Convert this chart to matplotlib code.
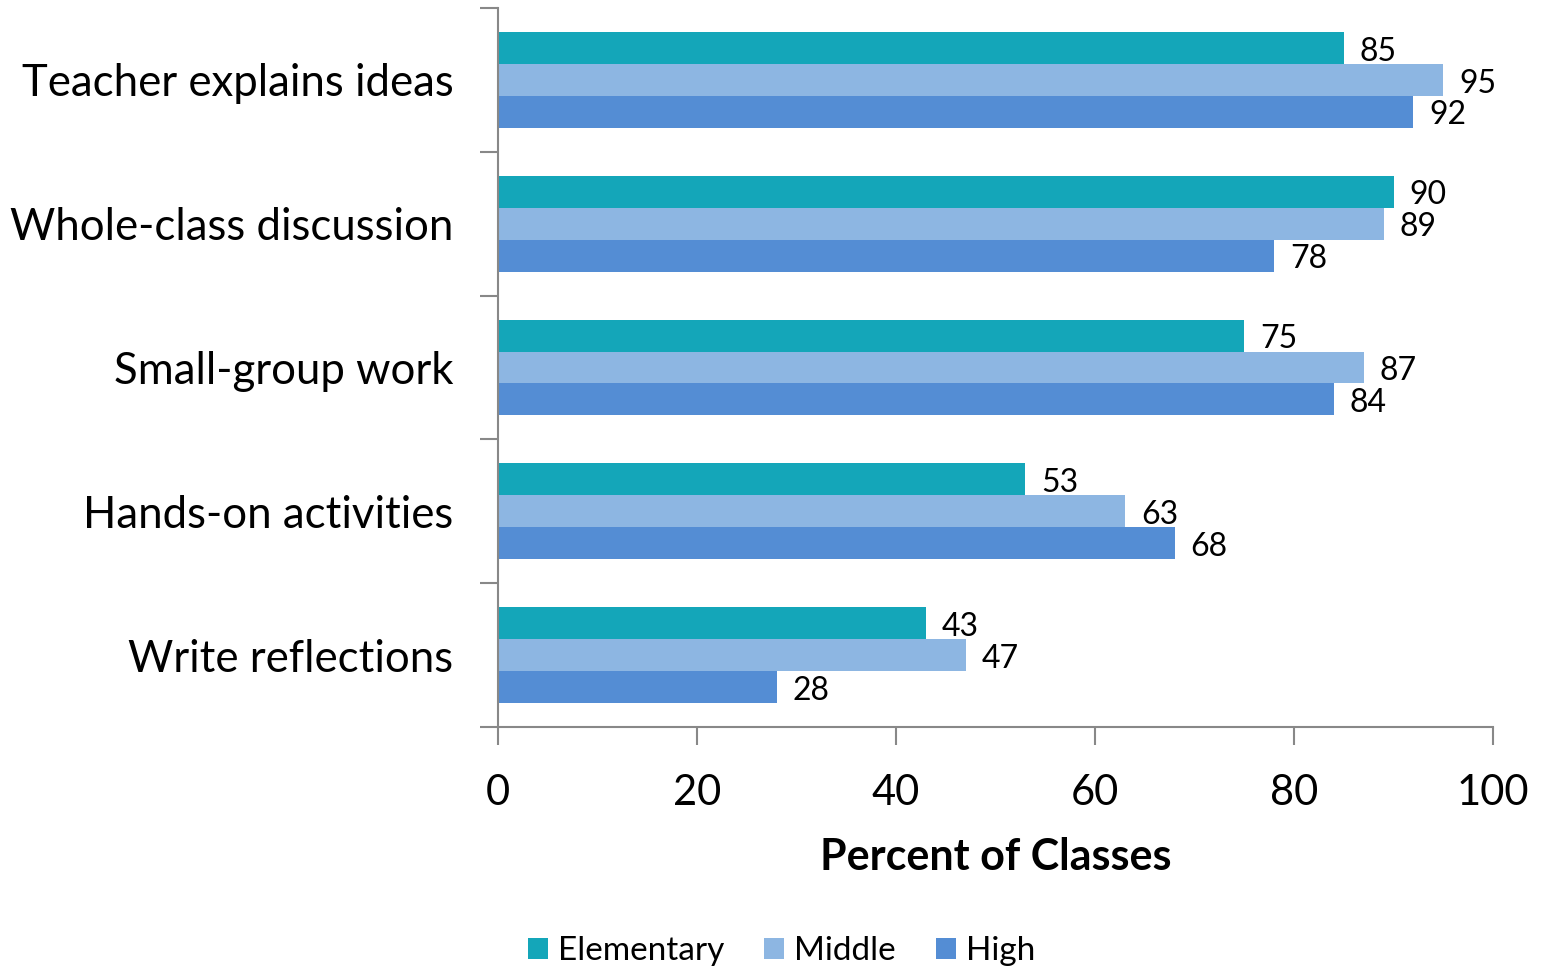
import matplotlib.pyplot as plt
import numpy as np

plt.rcParams['font.family'] = ['Lato', 'DejaVu Sans']

categories = ['Teacher explains ideas', 'Whole-class discussion', 'Small-group work',
              'Hands-on activities', 'Write reflections']
elementary = [85, 90, 75, 53, 43]
middle     = [95, 89, 87, 63, 47]
high       = [92, 78, 84, 68, 28]

series = [('Elementary', elementary, '#14A6B9'),
          ('Middle', middle, '#8DB6E2'),
          ('High', high, '#548DD4')]

fig = plt.figure(figsize=(15.48, 9.67), dpi=100)
ax = fig.add_axes([0.3217, 0.2482, 0.6428, 0.7435])

y = np.arange(len(categories))
h = 0.222
for k, (name, vals, col) in enumerate(series):
    pos = y + (k - 1) * h
    ax.barh(pos, vals, height=h, color=col, label=name)
    for p, v in zip(pos, vals):
        ax.text(v + 1.6, p + 0.025, str(v), va='center', ha='left', fontsize=23)

ax.set_ylim(len(categories) - 0.5, -0.5)
ax.set_xlim(0, 100)
ax.set_xticks(np.arange(0, 101, 20))
ax.set_yticks(np.arange(-0.5, len(categories), 1))
ax.set_yticklabels([])
ax.set_yticks(y, minor=True)
ax.set_yticklabels(categories, minor=True, fontsize=31.5)
ax.tick_params(axis='y', which='minor', length=0, pad=32)
ax.tick_params(axis='y', which='major', length=13, color='#888888', width=1.5)
ax.tick_params(axis='x', length=13, color='#888888', width=1.5, labelsize=30, pad=21)

for s in ['top', 'right']:
    ax.spines[s].set_visible(False)
for s in ['left', 'bottom']:
    ax.spines[s].set_color('#888888')
    ax.spines[s].set_linewidth(1.5)

ax.set_xlabel('Percent of Classes', fontsize=31, fontweight='bold', labelpad=18)

fig.legend(loc='lower center', bbox_to_anchor=(0.505, -0.03), ncol=3, frameon=False,
           fontsize=24, handlelength=0.6, handleheight=0.6, handletextpad=0.3,
           columnspacing=1.2)

fig.savefig('out.png', dpi=100)
